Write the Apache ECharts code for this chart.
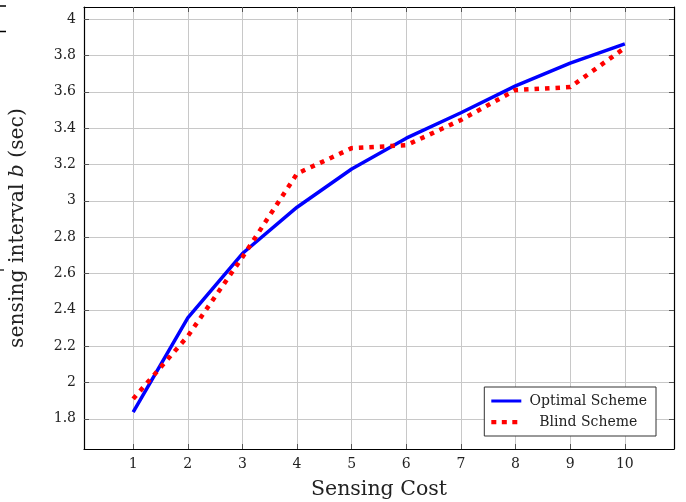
<!DOCTYPE html>
<html><head><meta charset="utf-8">
<script src="https://cdn.jsdelivr.net/npm/echarts@6/dist/echarts.min.js"></script>
<style>html,body{margin:0;padding:0;background:#fff}#c{width:686px;height:502px}</style>
</head><body><div id="c"></div>
<script>
const costs = [1, 2, 3, 4, 5, 6, 7, 8, 9, 10];
const optimal = [1.837, 2.356, 2.71, 2.965, 3.175, 3.345, 3.485, 3.633, 3.758, 3.864];
const blind = [1.91, 2.255, 2.69, 3.15, 3.29, 3.306, 3.445, 3.61, 3.626, 3.842];
const xTicks = [1, 2, 3, 4, 5, 6, 7, 8, 9, 10];
const yTicks = [1.8, 2.0, 2.2, 2.4, 2.6, 2.8, 3.0, 3.2, 3.4, 3.6, 3.8, 4.0];
const xMin = 0.1, xMax = 10.9, yMin = 1.634, yMax = 4.067;

const font = '"DejaVu Serif", "Liberation Serif", serif';
const chart = echarts.init(document.getElementById('c'));
const baseX = {
  type: 'value', min: xMin, max: xMax,
  axisLine: {show: true, onZero: false, lineStyle: {color: '#000', width: 1.2}},
  axisTick: {show: true, inside: true, length: 5, customValues: xTicks, lineStyle: {color: '#555'}},
};
const baseY = {
  type: 'value', min: yMin, max: yMax,
  axisLine: {show: true, onZero: false, lineStyle: {color: '#000', width: 1.2}},
  axisTick: {show: true, inside: true, length: 5, customValues: yTicks, lineStyle: {color: '#555'}},
};
chart.setOption({
  animation: false,
  grid: {left: 84, right: 12, top: 7, bottom: 53, containLabel: false, outerBoundsMode: 'none'},
  xAxis: [
    Object.assign({}, baseX, {
      position: 'bottom',
      name: 'Sensing Cost', nameLocation: 'middle', nameGap: 30,
      nameTextStyle: {fontFamily: font, fontSize: 20.5, color: '#222'},
      axisLabel: {customValues: xTicks, fontFamily: font, fontSize: 14, color: '#222', margin: 8,
        formatter: v => String(Math.round(v))},
      splitLine: {show: true, lineStyle: {color: '#c8c8c8', width: 1}}
    }),
    Object.assign({}, baseX, {position: 'top', axisLabel: {show: false}, splitLine: {show: false}})
  ],
  yAxis: [
    Object.assign({}, baseY, {
      position: 'left',
      name: '{a|sensing interval }{b|b}{a| (sec)}', nameLocation: 'middle', nameGap: 56, nameRotate: 90,
      nameTextStyle: {rich: {
        a: {fontFamily: font, fontSize: 20.3, color: '#222'},
        b: {fontFamily: font, fontSize: 20.3, fontStyle: 'italic', color: '#222'}
      }},
      axisLabel: {customValues: yTicks, fontFamily: font, fontSize: 14, color: '#222', margin: 8,
        formatter: v => { const r = Math.round(v * 10) / 10; return Number.isInteger(r) ? String(r) : r.toFixed(1); }},
      splitLine: {show: true, lineStyle: {color: '#c8c8c8', width: 1}}
    }),
    Object.assign({}, baseY, {position: 'right', axisLabel: {show: false}, splitLine: {show: false}})
  ],
  legend: {
    orient: 'vertical', right: 30, bottom: 66,
    backgroundColor: '#fff', borderColor: '#333', borderWidth: 1, borderRadius: 0, padding: [7, 9, 7, 7],
    itemGap: 7, itemWidth: 30, itemHeight: 14,
    formatter: n => '{c|' + n + '}',
    textStyle: {fontFamily: font, fontSize: 14, color: '#222', rich: {c: {width: 124, align: 'center', fontFamily: font, fontSize: 14, color: '#222'}}},
    data: [
      {name: 'Optimal Scheme', icon: 'path://M0,5.5 L30,5.5 L30,8.5 L0,8.5 Z', itemStyle: {color: '#0000ff'}},
      {name: 'Blind Scheme', icon: 'path://M0,5 L5,5 L5,9.3 L0,9.3 Z M10.5,5 L15.5,5 L15.5,9.3 L10.5,9.3 Z M21,5 L26,5 L26,9.3 L21,9.3 Z M30,5 L30,5.01 Z M0,0 L0,0.01 Z M0,14 L0,14.01 Z', itemStyle: {color: '#ff0000'}}
    ]
  },
  graphic: [
    {type: 'line', shape: {x1: 0, y1: 6, x2: 6, y2: 6}, style: {stroke: '#000', lineWidth: 1.5}},
    {type: 'line', shape: {x1: 0, y1: 31.5, x2: 6, y2: 31.5}, style: {stroke: '#000', lineWidth: 1.5}},
    {type: 'line', shape: {x1: 0, y1: 270, x2: 4, y2: 270}, style: {stroke: '#000', lineWidth: 1.2}}
  ],
  series: [
    {name: 'Optimal Scheme', type: 'line', data: costs.map((c, i) => [c, optimal[i]]),
      showSymbol: false, symbol: 'none', z: 3,
      lineStyle: {color: '#0000ff', width: 3.5}, itemStyle: {color: '#0000ff'}},
    {name: 'Blind Scheme', type: 'line', data: costs.map((c, i) => [c, blind[i]]),
      showSymbol: false, symbol: 'none', z: 4,
      lineStyle: {color: '#ff0000', width: 4.5, type: [4.5, 6]}, itemStyle: {color: '#ff0000'}}
  ]
});
</script></body></html>
